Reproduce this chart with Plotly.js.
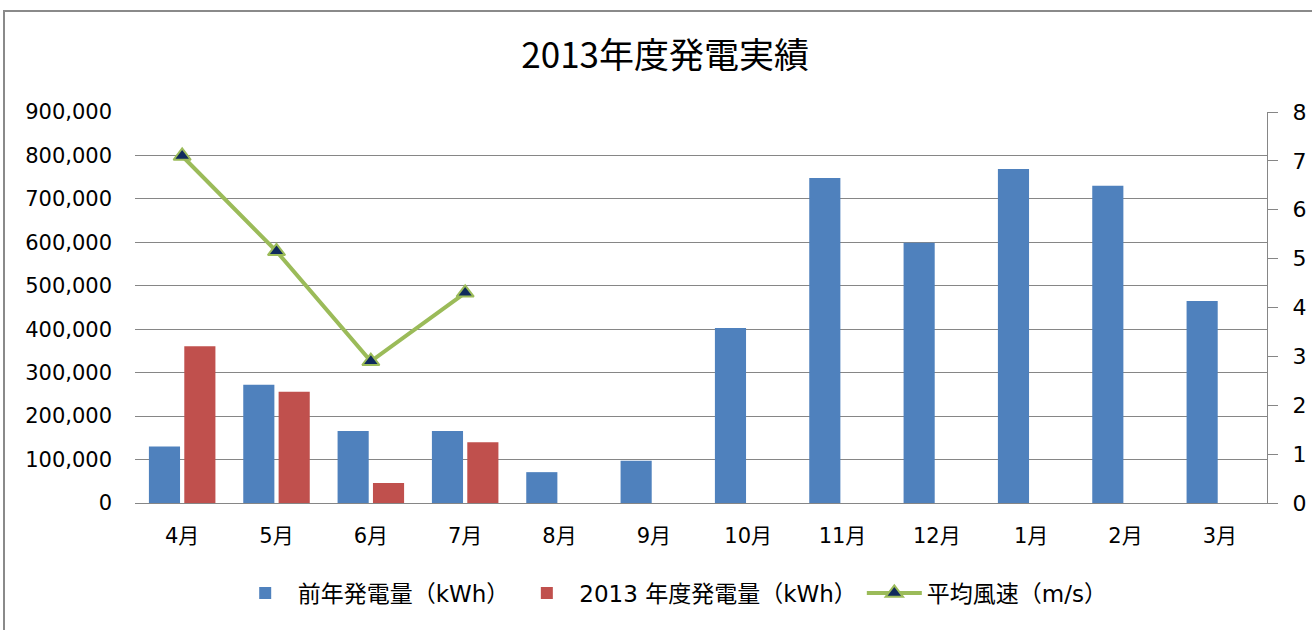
<!DOCTYPE html>
<html>
<head>
<meta charset="utf-8">
<script src="https://cdn.plot.ly/plotly-3.0.1.min.js"></script>
<style>
  html, body { margin: 0; padding: 0; background: #fff; }
  #wrap { position: relative; width: 1312px; height: 630px; overflow: hidden; }
  #chart { position: absolute; left: 0; top: 0; width: 1312px; height: 630px; }
  #frame { position: absolute; left: 3px; top: 10px; width: 1400px; height: 700px;
           border-left: 2px solid #8a8a8a; border-top: 2px solid #8a8a8a; pointer-events: none; }
</style>
</head>
<body>
<div id="wrap">
  <div id="chart"></div>
  <div id="frame"></div>
</div>
<script>
const months = ['4月','5月','6月','7月','8月','9月','10月','11月','12月','1月','2月','3月'];
const prevYear = [130000, 272000, 166000, 166000, 71000, 97000, 403000, 748000, 599000, 769000, 730000, 465000];
const fy2013 = [361000, 256000, 46000, 140000, null, null, null, null, null, null, null, null];
const windSpeed = [7.1, 5.15, 2.9, 4.3, null, null, null, null, null, null, null, null];

const seriesNames = ['前年発電量（kWh）', '2013 年度発電量（kWh）', '平均風速（m/s）'];
const titleText = '2013年度発電実績';

const jp = '"Noto Sans CJK JP", "Noto Sans", sans-serif';
const mixed = '"DejaVu Sans", "Noto Sans CJK JP", sans-serif';

const traces = [
  {
    type: 'bar', name: seriesNames[0], x: months, y: prevYear,
    marker: { color: '#4f81bd' }, yaxis: 'y'
  },
  {
    type: 'bar', name: seriesNames[1], x: months, y: fy2013,
    marker: { color: '#c0504d' }, yaxis: 'y'
  },
  {
    type: 'scatter', mode: 'lines+markers', name: seriesNames[2], x: months, y: windSpeed,
    yaxis: 'y2', connectgaps: false,
    line: { color: '#9bbb59', width: 4 },
    marker: { symbol: 'triangle-up', size: 15, color: '#0f2a5c', line: { color: '#9bbb59', width: 2 } }
  }
];

const layout = {
  width: 1312, height: 630,
  margin: { l: 135, r: 45, t: 112, b: 127 },
  paper_bgcolor: '#ffffff', plot_bgcolor: '#ffffff',
  font: { family: mixed, color: '#000000', size: 20 },
  title: {
    text: titleText, font: { family: jp, size: 35, color: '#000' },
    x: 0.507, xanchor: 'center', xref: 'container',
    y: 1 - 56 / 630, yanchor: 'middle', yref: 'container'
  },
  barmode: 'group', bargap: 0.25, bargroupgap: 0.12,
  xaxis: {
    type: 'category', showgrid: false, showline: true, linecolor: '#868686', linewidth: 1,
    ticks: '', tickfont: { size: 21, family: mixed }, ticklabelstandoff: 14,
    range: [-0.5, 11.5], fixedrange: true
  },
  yaxis: {
    range: [0, 900000], dtick: 100000, tickformat: ',d',
    showgrid: true, gridcolor: '#868686', gridwidth: 1,
    showline: false, zeroline: false, ticks: '',
    tickfont: { size: 21, family: mixed }, ticklabelstandoff: 22
  },
  yaxis2: {
    overlaying: 'y', side: 'right', range: [0, 8], dtick: 1,
    showgrid: false, zeroline: false, showline: true, linecolor: '#868686', linewidth: 1,
    ticks: 'outside', ticklen: 10, tickcolor: '#868686',
    tickfont: { size: 22, family: mixed }, ticklabelstandoff: 10
  },
  legend: {
    orientation: 'h', x: 0.475, xanchor: 'center', y: -0.23, yanchor: 'middle',
    font: { size: 23, family: mixed }, itemwidth: 55, traceorder: 'normal',
    bgcolor: 'rgba(0,0,0,0)'
  },
  showlegend: true
};

Plotly.newPlot('chart', traces, layout, { displayModeBar: false, staticPlot: true });
</script>
</body>
</html>
